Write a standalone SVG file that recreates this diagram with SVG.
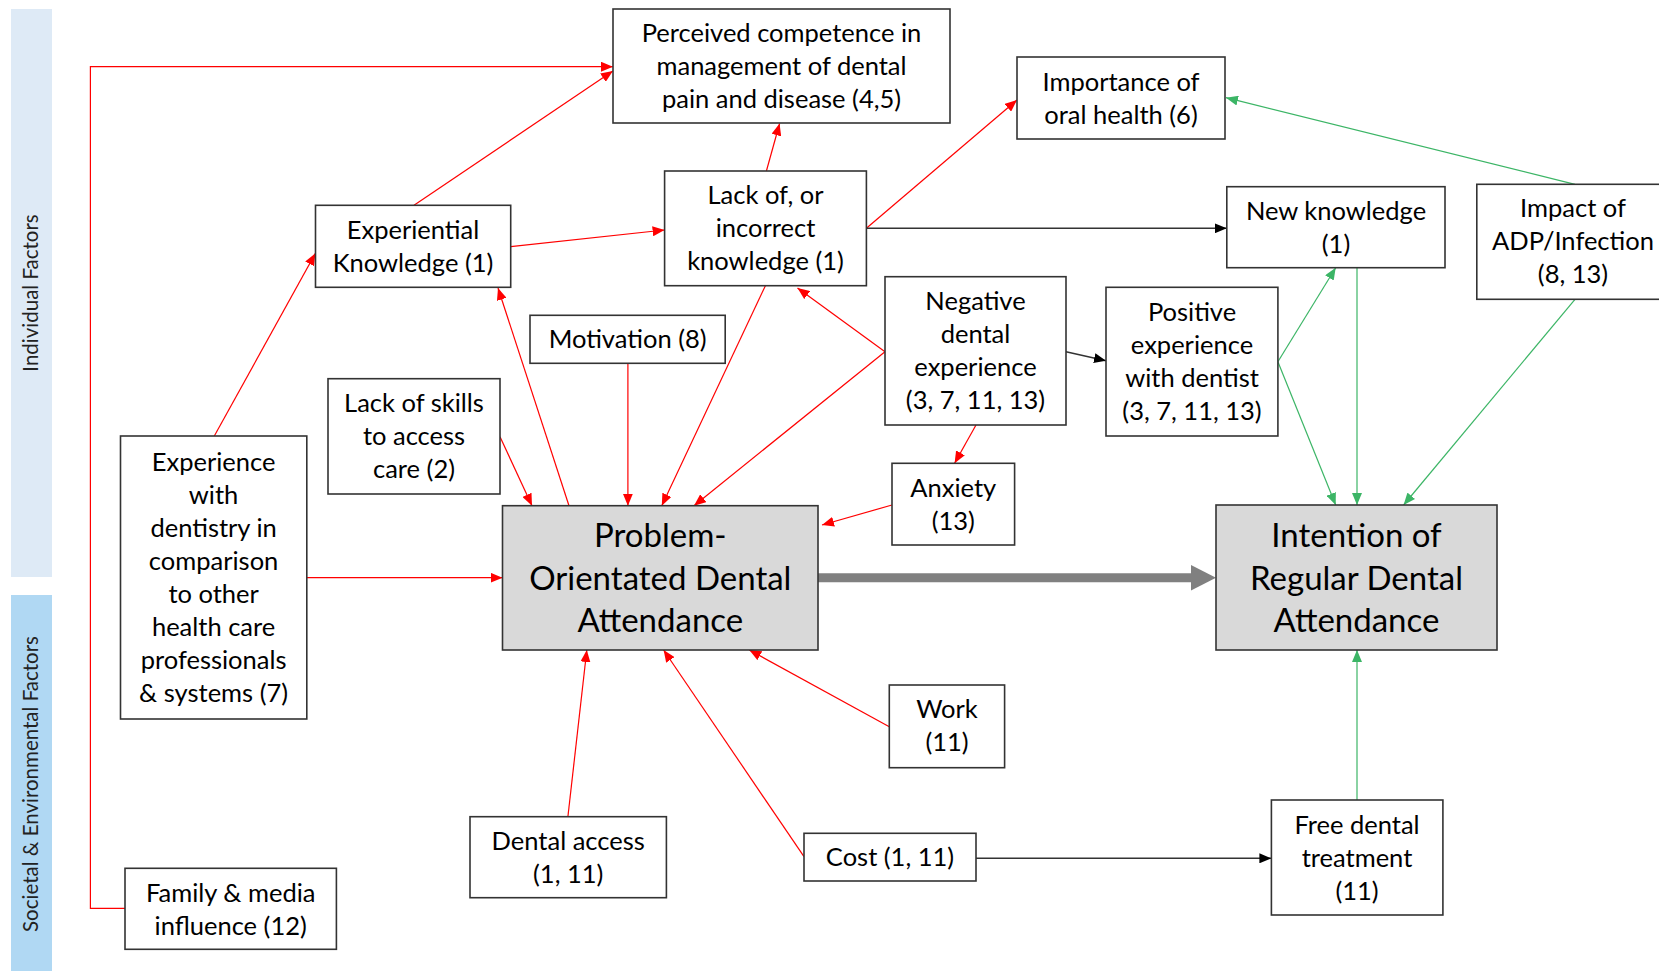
<svg xmlns="http://www.w3.org/2000/svg" width="1659" height="971" viewBox="0 0 1659 971">
  <style>
    .box { fill: #ffffff; stroke: #333333; stroke-width: 1.6; }
    .core { fill: #d9d9d9; stroke: #333333; stroke-width: 1.6; }
    .lbl { font-family: Lato, "Liberation Sans", sans-serif; font-size: 25.5px; fill: #000000; text-anchor: middle; }
    .big { font-family: Lato, "Liberation Sans", sans-serif; font-size: 33px; fill: #000000; text-anchor: middle; }
    .side { font-family: Lato, "Liberation Sans", sans-serif; font-size: 20.5px; fill: #222222; text-anchor: middle; }
    .red { fill: none; stroke: #ff0000; stroke-width: 1.2; marker-end: url(#ah-red); }
    .blk { fill: none; stroke: #333333; stroke-width: 1.4; marker-end: url(#ah-blk); }
    .grn { fill: none; stroke: #3cb566; stroke-width: 1.2; marker-end: url(#ah-grn); }
  </style>
  <defs>
    <marker id="ah-red" viewBox="0 0 12 10" refX="12" refY="5" markerWidth="12" markerHeight="10" markerUnits="userSpaceOnUse" orient="auto">
      <path d="M0,0 L12,5 L0,10 z" fill="#ff0000"/>
    </marker>
    <marker id="ah-blk" viewBox="0 0 12 10" refX="12" refY="5" markerWidth="12" markerHeight="10" markerUnits="userSpaceOnUse" orient="auto">
      <path d="M0,0 L12,5 L0,10 z" fill="#000000"/>
    </marker>
    <marker id="ah-grn" viewBox="0 0 12 10" refX="12" refY="5" markerWidth="12" markerHeight="10" markerUnits="userSpaceOnUse" orient="auto">
      <path d="M0,0 L12,5 L0,10 z" fill="#3cb566"/>
    </marker>
  </defs>

  <rect width="1659" height="971" fill="#ffffff"/>

  <!-- side bands -->
  <g id="band-individual">
    <rect x="11" y="9" width="41" height="568" fill="#deeaf6"/>
    <text class="side" transform="translate(38,293) rotate(-90)">Individual Factors</text>
  </g>
  <g id="band-societal">
    <rect x="11" y="595" width="41" height="376" fill="#b0d8f3"/>
    <text class="side" transform="translate(38,784) rotate(-90)">Societal &amp; Environmental Factors</text>
  </g>

  <!-- connectors -->
  <g id="connectors">
    <polyline class="red" points="125,908.3 90.4,908.3 90.4,66.7 612.9,66.7"/>
    <line class="red" x1="414" y1="205.3" x2="612.9" y2="71"/>
    <line class="red" x1="214.3" y1="436" x2="315.4" y2="253.3"/>
    <line class="red" x1="510.7" y1="246.7" x2="664.6" y2="230"/>
    <line class="red" x1="766.4" y1="171" x2="779.6" y2="123.5"/>
    <line class="red" x1="866.4" y1="228.3" x2="1017" y2="100"/>
    <line class="red" x1="569" y1="505.7" x2="498" y2="288"/>
    <line class="red" x1="500" y1="436.7" x2="532" y2="505.7"/>
    <line class="red" x1="627.9" y1="363.3" x2="627.9" y2="505.7"/>
    <line class="red" x1="765.4" y1="285.7" x2="661.8" y2="505.7"/>
    <line class="red" x1="885" y1="351.7" x2="694" y2="505.7"/>
    <line class="red" x1="885" y1="351.7" x2="797.5" y2="288"/>
    <line class="red" x1="976" y1="425" x2="954.6" y2="463.3"/>
    <line class="red" x1="892" y1="505" x2="822" y2="525"/>
    <line class="red" x1="306.8" y1="577.7" x2="502.5" y2="577.7"/>
    <line class="red" x1="567.9" y1="816.7" x2="586.8" y2="650"/>
    <line class="red" x1="804" y1="856.7" x2="663.6" y2="650"/>
    <line class="red" x1="889.3" y1="726.7" x2="749.3" y2="650"/>

    <line class="blk" x1="866.4" y1="228.3" x2="1226.8" y2="228.3"/>
    <line class="blk" x1="1066" y1="351.7" x2="1106" y2="360.7"/>
    <line class="blk" x1="976" y1="858.3" x2="1271.4" y2="858.3"/>

    <line class="grn" x1="1575" y1="184.3" x2="1226" y2="97.7"/>
    <line class="grn" x1="1277.9" y1="361.7" x2="1335.7" y2="267.7"/>
    <line class="grn" x1="1277.9" y1="361.7" x2="1335.7" y2="505"/>
    <line class="grn" x1="1357" y1="267.7" x2="1357" y2="505"/>
    <line class="grn" x1="1575" y1="299.3" x2="1403.6" y2="505"/>
    <line class="grn" x1="1357" y1="800" x2="1357" y2="650"/>

    <!-- main transition arrow -->
    <line x1="818" y1="577.7" x2="1192" y2="577.7" stroke="#808080" stroke-width="9"/>
    <polygon points="1191,565 1216,577.7 1191,590.4" fill="#808080"/>
  </g>

  <!-- nodes -->
  <g id="perceived">
    <rect class="box" x="613" y="9" width="337" height="114"/>
    <text class="lbl"><tspan x="781.5" y="42">Perceived competence in</tspan><tspan x="781.5" y="75">management of dental</tspan><tspan x="781.5" y="108">pain and disease (4,5)</tspan></text>
  </g>
  <g id="importance">
    <rect class="box" x="1017" y="57" width="208" height="82"/>
    <text class="lbl"><tspan x="1121" y="91">Importance of</tspan><tspan x="1121" y="124">oral health (6)</tspan></text>
  </g>
  <g id="experiential">
    <rect class="box" x="315.5" y="205.3" width="195.2" height="82"/>
    <text class="lbl"><tspan x="413" y="239">Experiential</tspan><tspan x="413" y="272">Knowledge (1)</tspan></text>
  </g>
  <g id="lack-knowledge">
    <rect class="box" x="664.6" y="171" width="201.8" height="114.7"/>
    <text class="lbl"><tspan x="765.5" y="204">Lack of, or</tspan><tspan x="765.5" y="237">incorrect</tspan><tspan x="765.5" y="270">knowledge (1)</tspan></text>
  </g>
  <g id="new-knowledge">
    <rect class="box" x="1226.8" y="186.7" width="218.2" height="81"/>
    <text class="lbl"><tspan x="1336" y="220">New knowledge</tspan><tspan x="1336" y="253">(1)</tspan></text>
  </g>
  <g id="impact">
    <rect class="box" x="1476.8" y="184.3" width="195" height="115"/>
    <text class="lbl"><tspan x="1573" y="217">Impact of</tspan><tspan x="1573" y="250">ADP/Infection</tspan><tspan x="1573" y="283">(8, 13)</tspan></text>
  </g>
  <g id="motivation">
    <rect class="box" x="530" y="315.3" width="195.2" height="48"/>
    <text class="lbl" x="627.6" y="348">Motivation (8)</text>
  </g>
  <g id="negative">
    <rect class="box" x="885" y="276.7" width="181" height="148.3"/>
    <text class="lbl"><tspan x="975.5" y="310">Negative</tspan><tspan x="975.5" y="343">dental</tspan><tspan x="975.5" y="376">experience</tspan><tspan x="975.5" y="409">(3, 7, 11, 13)</tspan></text>
  </g>
  <g id="positive">
    <rect class="box" x="1106" y="287.3" width="171.9" height="148.7"/>
    <text class="lbl"><tspan x="1192" y="321">Positive</tspan><tspan x="1192" y="354">experience</tspan><tspan x="1192" y="387">with dentist</tspan><tspan x="1192" y="420">(3, 7, 11, 13)</tspan></text>
  </g>
  <g id="lack-skills">
    <rect class="box" x="328" y="378.7" width="172" height="115.3"/>
    <text class="lbl"><tspan x="414" y="412">Lack of skills</tspan><tspan x="414" y="445">to access</tspan><tspan x="414" y="478">care (2)</tspan></text>
  </g>
  <g id="anxiety">
    <rect class="box" x="892" y="463.3" width="122.6" height="81.7"/>
    <text class="lbl"><tspan x="953.3" y="497">Anxiety</tspan><tspan x="953.3" y="530">(13)</tspan></text>
  </g>
  <g id="experience-comparison">
    <rect class="box" x="120.5" y="436" width="186.3" height="283"/>
    <text class="lbl"><tspan x="213.6" y="471">Experience</tspan><tspan x="213.6" y="504">with</tspan><tspan x="213.6" y="537">dentistry in</tspan><tspan x="213.6" y="570">comparison</tspan><tspan x="213.6" y="603">to other</tspan><tspan x="213.6" y="636">health care</tspan><tspan x="213.6" y="669">professionals</tspan><tspan x="213.6" y="702">&amp; systems (7)</tspan></text>
  </g>
  <g id="problem-orientated">
    <rect class="core" x="502.5" y="505.7" width="315.5" height="144.3"/>
    <text class="big"><tspan x="660.3" y="547">Problem-</tspan><tspan x="660.3" y="589.5">Orientated Dental</tspan><tspan x="660.3" y="632">Attendance</tspan></text>
  </g>
  <g id="intention-regular">
    <rect class="core" x="1216" y="505" width="281" height="145"/>
    <text class="big"><tspan x="1356.5" y="547">Intention of</tspan><tspan x="1356.5" y="589.5">Regular Dental</tspan><tspan x="1356.5" y="632">Attendance</tspan></text>
  </g>
  <g id="work">
    <rect class="box" x="889.3" y="685" width="115.3" height="82.7"/>
    <text class="lbl"><tspan x="947" y="718">Work</tspan><tspan x="947" y="751">(11)</tspan></text>
  </g>
  <g id="dental-access">
    <rect class="box" x="470" y="816.7" width="196.4" height="81"/>
    <text class="lbl"><tspan x="568.2" y="850">Dental access</tspan><tspan x="568.2" y="883">(1, 11)</tspan></text>
  </g>
  <g id="cost">
    <rect class="box" x="804" y="833.3" width="172" height="47.7"/>
    <text class="lbl" x="890" y="866">Cost (1, 11)</text>
  </g>
  <g id="free-treatment">
    <rect class="box" x="1271.4" y="800" width="171.5" height="115"/>
    <text class="lbl"><tspan x="1357" y="834">Free dental</tspan><tspan x="1357" y="867">treatment</tspan><tspan x="1357" y="900">(11)</tspan></text>
  </g>
  <g id="family-media">
    <rect class="box" x="125" y="868.3" width="211.4" height="81"/>
    <text class="lbl"><tspan x="230.7" y="902">Family &amp; media</tspan><tspan x="230.7" y="935">influence (12)</tspan></text>
  </g>
</svg>
